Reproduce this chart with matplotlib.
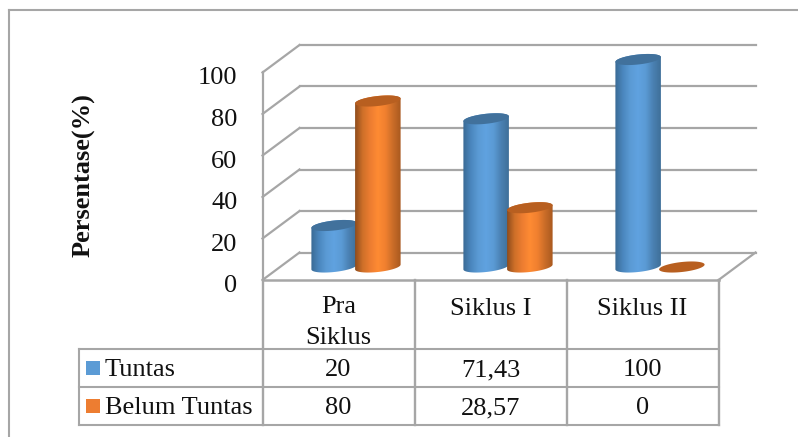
import matplotlib
matplotlib.use('Agg')
import matplotlib.pyplot as plt
import numpy as np
from matplotlib.colors import LinearSegmentedColormap
from matplotlib.patches import Polygon, Rectangle
from matplotlib.transforms import ScaledTranslation

categories = ['Pra\nSiklus', 'Siklus I', 'Siklus II']
series_names = ['Tuntas', 'Belum Tuntas']
tuntas = [20, 71.43, 100]
belum_tuntas = [80, 28.57, 0]
value_labels = [['20', '71,43', '100'], ['80', '28,57', '0']]
y_ticks = [0, 20, 40, 60, 80, 100]

W, H = 798, 437
FS = 19
plt.rcParams['font.family'] = ['Liberation Serif', 'DejaVu Serif']

fig = plt.figure(figsize=(W / 100, H / 100), dpi=100, facecolor='white')
# overlay in pixel coordinates for the frame and the data table
pix = fig.add_axes([0, 0, 1, 1])
pix.set_xlim(0, W)
pix.set_ylim(H, 0)
pix.axis('off')

# front plane of the 3D box: three categories wide, 0-100 tall
X0, X1, Y0, Y1 = 262.5, 718.5, 280.0, 72.5
ax = fig.add_axes([X0 / W, 1 - Y0 / H, (X1 - X0) / W, (Y0 - Y1) / H])
ax.set_xlim(0, 3)
ax.set_ylim(0, 100)
ax.patch.set_alpha(0)
for s in ax.spines.values():
    s.set_visible(False)
ax.set_xticks([])
ax.set_yticks(y_ticks)
ax.tick_params(axis='y', length=0, pad=18, labelsize=FS, labelcolor='#111111')
# tick labels sit a little below their gridline ends
for lab in ax.get_yticklabels():
    lab.set_transform(lab.get_transform() + ScaledTranslation(0, -3.5 / 100, fig.dpi_scale_trans))
ax.set_ylabel('Persentase(%)', fontsize=19, fontweight='bold', color='#111111')
ax.yaxis.set_label_coords(-0.367, 0.505)

px_x = 3 / (X1 - X0)
px_y = 100 / (Y0 - Y1)
DEPTH_X = 37 * px_x
DEPTH_Y = 27.5 * px_y
GRID = '#a6a6a6'

# walls and floor
for v in y_ticks:
    ax.plot([0, DEPTH_X], [v, v + DEPTH_Y], color=GRID, lw=1.6, clip_on=False, zorder=1)
    ax.plot([DEPTH_X, 3 + DEPTH_X], [v + DEPTH_Y] * 2, color=GRID, lw=1.6, clip_on=False, zorder=1)
ax.plot([0, 0], [0, 100], color=GRID, lw=1.6, clip_on=False, zorder=1)
ax.plot([0, 3], [0, 0], color=GRID, lw=1.8, clip_on=False, zorder=1)
ax.plot([3, 3 + DEPTH_X], [0, DEPTH_Y], color=GRID, lw=1.6, clip_on=False, zorder=1)

BAR_W = 45.5 * px_x
BAR_STEP = 43.7 * px_x
R_X = BAR_W / 2
R_Y = 5.0 * px_y
TILT = 2.4 * px_y
BASE = 13 * px_y


def ellipse(cx, cy, t):
    return cx + R_X * np.cos(t), cy + R_Y * np.sin(t) + TILT * np.cos(t)


def cylinder(cx, value, cmap, top_color, z):
    top = BASE + value
    if value > 0:
        xu, yu = ellipse(cx, top, np.linspace(0, np.pi, 40))
        xl, yl = ellipse(cx, BASE, np.linspace(np.pi, 2 * np.pi, 40))
        outline = np.column_stack([np.r_[xu, xl], np.r_[yu, yl]])
        clip = Polygon(outline, closed=True, transform=ax.transData, fc='none', ec='none')
        ax.add_patch(clip)
        grad = np.linspace(0, 1, 128)[None, :]
        im = ax.imshow(grad, cmap=cmap, aspect='auto', zorder=z,
                       extent=[cx - R_X, cx + R_X, BASE - R_Y - TILT, top + R_Y + TILT])
        im.set_clip_path(clip)
        # the tallest cylinder rises above the axes box
        im.set_clip_box(fig.bbox)
    xe, ye = ellipse(cx, top, np.linspace(0, 2 * np.pi, 80))
    ax.fill(xe, ye, color=top_color, lw=0, zorder=z + 0.1, clip_on=False)


blue = LinearSegmentedColormap.from_list('blue3d', ['#3a6a94', '#4a86bd', '#5b9bd5', '#60a2e0', '#5b9bd5', '#4a80b2', '#3f7099'])
orange = LinearSegmentedColormap.from_list('orange3d', ['#8f4c1c', '#cf7029', '#ed7d31', '#ff8b33', '#f0802f', '#c96c28', '#a9591f'])

series = [(tuntas, blue, '#41719c'), (belum_tuntas, orange, '#b85f20')]
for i in range(len(categories)):
    for j, (vals, cmap, top_color) in enumerate(series):
        cx = i + 0.5 + DEPTH_X / 2 - px_x + (j - 0.5) * BAR_STEP
        cylinder(cx, vals[i], cmap, top_color, 3 + j)
ax.set_xlim(0, 3)
ax.set_ylim(0, 100)

# outer chart border, only top and left edges are on the canvas
pix.plot([9, W], [9.5, 9.5], color='#a6a6a6', lw=1.5)
pix.plot([9, 9], [9.5, H], color='#a6a6a6', lw=1.5)

# data table below the plot
TABLE_LEFT = 78.5
ROWS = [349, 387, 425]
col_x = [X0 + k * (X1 - X0) / 3 for k in range(4)]
for y in ROWS:
    pix.plot([TABLE_LEFT, X1], [y, y], color=GRID, lw=1.5)
pix.plot([TABLE_LEFT, TABLE_LEFT], [ROWS[0], ROWS[2]], color=GRID, lw=1.5)
for x in col_x:
    pix.plot([x, x], [Y0, ROWS[2]], color=GRID, lw=1.7)

for i, cat in enumerate(categories):
    cx = (col_x[i] + col_x[i + 1]) / 2
    pix.text(cx, 296 if '\n' in cat else 298, cat, ha='center', va='top', fontsize=FS,
             color='#111111', linespacing=1.5)

swatches = ['#5b9bd5', '#ed7d31']
for r, name in enumerate(series_names):
    ymid = (ROWS[r] + ROWS[r + 1]) / 2
    pix.add_patch(Rectangle((86, ymid - 7), 14, 14, fc=swatches[r], ec='none'))
    pix.text(105, ymid, name, ha='left', va='center_baseline', fontsize=FS, color='#111111')
    for i, lab in enumerate(value_labels[r]):
        cx = (col_x[i] + col_x[i + 1]) / 2
        pix.text(cx, ymid, lab, ha='center', va='center_baseline', fontsize=FS, color='#111111')

fig.savefig('out.png', dpi=100, facecolor='white')
